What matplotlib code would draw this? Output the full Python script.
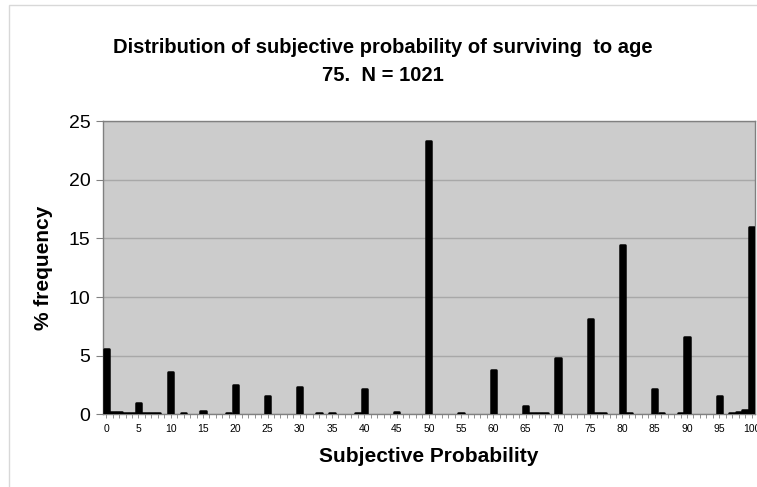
import matplotlib
matplotlib.use("Agg")
import matplotlib.pyplot as plt
from matplotlib.patches import Rectangle

plt.rcParams['font.family'] = ['Liberation Sans', 'DejaVu Sans']

# subjective probability 0..100, % frequency
probability = list(range(101))
frequency = [
    5.6, 0.2, 0.2, 0.15, 0.1, 1.0, 0.1, 0.1, 0.1, 0.0,    # 0-9
    3.6, 0.0, 0.1, 0.0, 0.0, 0.3, 0.0, 0.0, 0.0, 0.1,     # 10-19
    2.5, 0.0, 0.0, 0.0, 0.0, 1.6, 0.0, 0.0, 0.0, 0.0,     # 20-29
    2.3, 0.0, 0.0, 0.1, 0.0, 0.1, 0.0, 0.0, 0.0, 0.1,     # 30-39
    2.15, 0.0, 0.0, 0.0, 0.0, 0.2, 0.0, 0.0, 0.0, 0.0,    # 40-49
    23.3, 0.0, 0.0, 0.0, 0.0, 0.15, 0.0, 0.0, 0.0, 0.0,   # 50-59
    3.8, 0.0, 0.0, 0.0, 0.0, 0.7, 0.1, 0.1, 0.1, 0.0,     # 60-69
    4.8, 0.0, 0.0, 0.0, 0.0, 8.15, 0.1, 0.1, 0.0, 0.0,    # 70-79
    14.4, 0.1, 0.0, 0.0, 0.0, 2.2, 0.1, 0.0, 0.0, 0.1,    # 80-89
    6.6, 0.0, 0.0, 0.0, 0.0, 1.6, 0.0, 0.1, 0.2, 0.35,    # 90-99
    16.0,                                                 # 100
]
x_labels = [str(v) if v % 5 == 0 else "" for v in probability]

fig = plt.figure(figsize=(7.57, 4.87), dpi=100)
ax = fig.add_axes([0.136, 0.149, 0.861, 0.6025])

# light chart-area frame (cropped at right / bottom like the source)
fig.patches.append(Rectangle((0.012, -0.1), 1.2, 1.09, transform=fig.transFigure,
                             fill=False, edgecolor="#d8d8d8", linewidth=1))

ax.set_facecolor("#cccccc")
edge_widths = [1.8 if v > 0 else 0 for v in frequency]
ax.bar(probability, frequency, width=0.82, color="black", edgecolor="black",
       linewidth=edge_widths, joinstyle="round", zorder=3)

ax.set_xlim(-0.5, 100.5)
ax.set_ylim(0, 25)
ax.set_yticks([0, 5, 10, 15, 20, 25])
ax.yaxis.grid(True, color="#a8a8a8", linewidth=1, zorder=0)

ax.set_xticks(probability)
ax.set_xticklabels(x_labels, fontsize=7.5)
ax.tick_params(axis="x", length=3, width=0.6, color="#808080", pad=4)
ax.tick_params(axis="y", labelsize=14, length=5, width=0.8, color="#808080", pad=4)

for side in ax.spines.values():
    side.set_color("#808080")
    side.set_linewidth(1)

ax.set_xlabel("Subjective Probability", fontsize=15, fontweight="bold", labelpad=9)
ax.set_ylabel("% frequency", fontsize=15, fontweight="bold", labelpad=11)
ax.set_title("Distribution of subjective probability of surviving  to age\n75.  N = 1021",
             fontsize=14.5, fontweight="bold", pad=29, linespacing=1.6, x=0.43)

fig.savefig("out.png", dpi=100)
